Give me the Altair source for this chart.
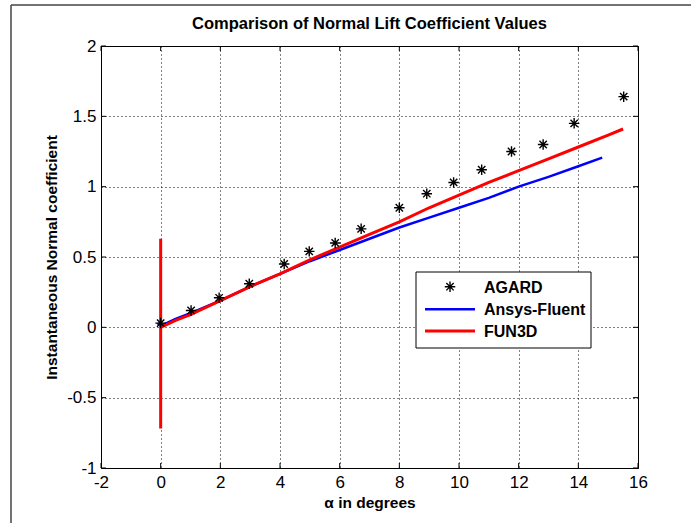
import altair as alt
import pandas as pd

# ---- data ----
agard_alpha = [0.0, 1.02, 1.96, 2.97, 4.14, 4.98, 5.85, 6.72, 8.0, 8.92, 9.82, 10.76, 11.76, 12.82, 13.86, 15.52]
agard_cn = [0.03, 0.12, 0.21, 0.31, 0.45, 0.54, 0.60, 0.70, 0.85, 0.95, 1.03, 1.12, 1.25, 1.30, 1.45, 1.64]

fluent_alpha = [-0.1, 0.0, 0.5, 1, 2, 3, 4, 5, 6, 7, 8, 9, 10, 11, 12, 13, 14, 14.8]
fluent_cn = [0.03, 0.01, 0.06, 0.10, 0.19, 0.29, 0.38, 0.47, 0.55, 0.63, 0.71, 0.78, 0.85, 0.92, 1.00, 1.07, 1.145, 1.206]

fun3d_alpha = [0, 0, 0, 0, 0, 0, 0.5, 1, 2, 3, 4, 5, 6, 7, 8, 9, 10, 11, 12, 13, 14, 15, 15.5]
fun3d_cn = [0.0, 0.63, -0.72, -0.35, 0.02, 0.0, 0.05, 0.09, 0.19, 0.29, 0.38, 0.48, 0.57, 0.66, 0.75, 0.85, 0.94, 1.03, 1.114, 1.198, 1.282, 1.366, 1.41]

series_names = ["AGARD", "Ansys-Fluent", "FUN3D"]
series_colors = ["#000000", "#0000ff", "#ff0000"]

x_ticks = [-2, 0, 2, 4, 6, 8, 10, 12, 14, 16]
y_ticks = [-1, -0.5, 0, 0.5, 1, 1.5, 2]

W, H = 537, 422
FONT = "Liberation Sans, Arial, sans-serif"

fluent_df = pd.DataFrame({"alpha": fluent_alpha, "cn": fluent_cn, "order": list(range(len(fluent_alpha)))})
fun3d_df = pd.DataFrame({"alpha": fun3d_alpha, "cn": fun3d_cn, "order": list(range(len(fun3d_alpha)))})
pts_df = pd.DataFrame({"alpha": agard_alpha, "cn": agard_cn})
xt_df = pd.DataFrame({"v": x_ticks})
yt_df = pd.DataFrame({"v": y_ticks})
one = pd.DataFrame({"k": [0]})

xs = alt.Scale(domain=[-2, 16], nice=False, zero=False)
ys = alt.Scale(domain=[-1, 2], nice=False, zero=False)

STAR = "M-1,0L1,0M0,-1L0,1M-0.7,-0.7L0.7,0.7M-0.7,0.7L0.7,-0.7"

xaxis = alt.Axis(
    values=x_ticks, grid=True, gridDash=[1, 3], gridColor="black", gridOpacity=1, gridWidth=1,
    domain=False, ticks=False, labelPadding=6, labelFont=FONT, labelFontSize=17, labelColor="black",
    labelExpr="datum.value + ''",
    title="α in degrees", titleFont=FONT, titleFontSize=15.5, titleFontWeight="bold", titleColor="black",
    titlePadding=5, labelFlush=False,
)
yaxis = alt.Axis(
    values=y_ticks, grid=True, gridDash=[1, 3], gridColor="black", gridOpacity=1, gridWidth=1,
    domain=False, ticks=False, labelPadding=5, labelFont=FONT, labelFontSize=17, labelColor="black",
    labelExpr="datum.value + ''",
    title="Instantaneous Normal coefficient", titleFont=FONT, titleFontSize=15.5, titleFontWeight="bold",
    titleColor="black", titlePadding=7, labelFlush=False,
)

fluent = alt.Chart(fluent_df).mark_line(strokeWidth=2.5, clip=True, color=series_colors[1]).encode(
    x=alt.X("alpha:Q", scale=xs, axis=xaxis),
    y=alt.Y("cn:Q", scale=ys, axis=yaxis),
    order="order:Q",
)
fun3d = alt.Chart(fun3d_df).mark_line(strokeWidth=3, clip=True, color=series_colors[2]).encode(
    x=alt.X("alpha:Q", scale=xs),
    y=alt.Y("cn:Q", scale=ys),
    order="order:Q",
)
pts = alt.Chart(pts_df).mark_point(
    shape=STAR, filled=False, size=110, strokeWidth=1.4, opacity=1, color=series_colors[0]
).encode(
    x=alt.X("alpha:Q", scale=xs),
    y=alt.Y("cn:Q", scale=ys),
)

tick_style = dict(color="black", strokeWidth=1)
xt_bottom = alt.Chart(xt_df).mark_rule(**tick_style).encode(
    x=alt.X("v:Q", scale=xs), y=alt.value(H), y2=alt.value(H - 5)
)
xt_top = alt.Chart(xt_df).mark_rule(**tick_style).encode(
    x=alt.X("v:Q", scale=xs), y=alt.value(0), y2=alt.value(5)
)
yt_left = alt.Chart(yt_df).mark_rule(**tick_style).encode(
    y=alt.Y("v:Q", scale=ys), x=alt.value(0), x2=alt.value(5)
)
yt_right = alt.Chart(yt_df).mark_rule(**tick_style).encode(
    y=alt.Y("v:Q", scale=ys), x=alt.value(W), x2=alt.value(W - 5)
)

frame_top = alt.Chart(one).mark_rule(color="#444444", strokeWidth=1.5).encode(
    x=alt.value(-90), x2=alt.value(600), y=alt.value(-41)
)
frame_left = alt.Chart(one).mark_rule(color="#444444", strokeWidth=1.5).encode(
    x=alt.value(-90), y=alt.value(-41), y2=alt.value(500)
)

# ---- legend (drawn as marks inside the plot) ----
LX0, LX1, LY0, LY1 = 315, 490, 226, 302
row_y = [240.7, 263.3, 285.0]
leg_box = alt.Chart(one).mark_rect(fill="white", stroke="black", strokeWidth=1).encode(
    x=alt.value(LX0), x2=alt.value(LX1), y=alt.value(LY0), y2=alt.value(LY1)
)
leg_layers = [leg_box]
leg_layers.append(
    alt.Chart(one).mark_point(shape=STAR, filled=False, size=110, strokeWidth=1.4, opacity=1,
                              color=series_colors[0]).encode(x=alt.value(349), y=alt.value(row_y[0]))
)
for i in (1, 2):
    leg_layers.append(
        alt.Chart(one).mark_rule(color=series_colors[i], strokeWidth=2.5 if i == 1 else 3).encode(
            x=alt.value(324), x2=alt.value(374), y=alt.value(row_y[i])
        )
    )
for i, name in enumerate(series_names):
    leg_layers.append(
        alt.Chart(one).mark_text(
            align="left", baseline="middle", font=FONT, fontSize=16, fontWeight="bold", color="black"
        ).encode(x=alt.value(383), y=alt.value(row_y[i] + 1), text=alt.value(name))
    )

chart = (
    alt.layer(xt_bottom, xt_top, yt_left, yt_right, fluent, fun3d, pts, frame_top, frame_left, *leg_layers)
    .properties(
        width=W,
        height=H,
        title=alt.TitleParams(
            "Comparison of Normal Lift Coefficient Values",
            font=FONT, fontSize=16.5, fontWeight="bold", color="black", offset=8, anchor="middle", dy=36,
        ),
        autosize=alt.AutoSizeParams(type="none"),
        padding={"left": 101, "top": 46, "right": 53, "bottom": 55},
        background="white",
    )
    .configure_view(stroke="black", strokeWidth=1)
)

chart.save("out.html", embed_options={"renderer": "svg", "actions": False})
